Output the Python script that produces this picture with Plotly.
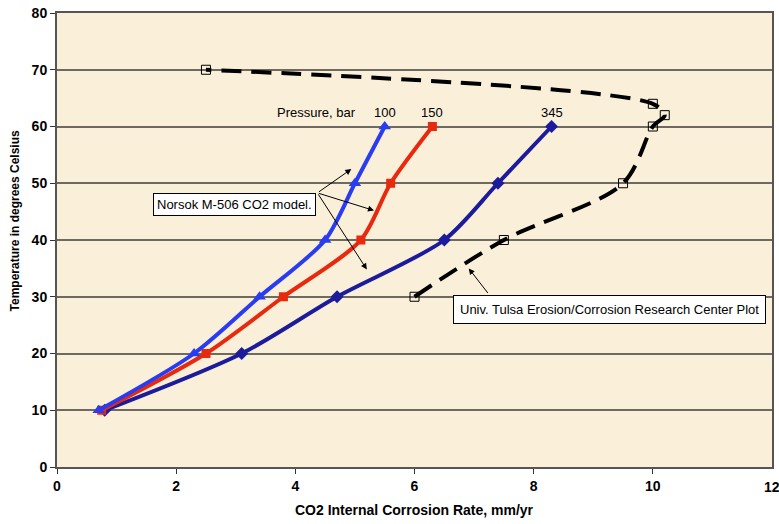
import plotly.graph_objects as go

# Norsok M-506 model curves, temperature (°C) vs corrosion rate (mm/yr)
temp_model = [10, 20, 30, 40, 50, 60]
rate_100bar = [0.7, 2.3, 3.4, 4.5, 5.0, 5.5]
rate_150bar = [0.75, 2.5, 3.8, 5.1, 5.6, 6.3]
rate_345bar = [0.8, 3.1, 4.7, 6.5, 7.4, 8.3]

# Univ. Tulsa E/CRC curve
tulsa_rate = [6.0, 7.5, 9.5, 10.0, 10.2, 10.0, 2.5]
tulsa_temp = [30, 40, 50, 60, 62, 64, 70]

pressure_labels = ["100", "150", "345"]
x_ticks = [0, 2, 4, 6, 8, 10, 12]
y_ticks = [0, 10, 20, 30, 40, 50, 60, 70, 80]

FAMILY = "Liberation Sans, Arial, sans-serif"
font = dict(family=FAMILY, color="black")

fig = go.Figure()

fig.add_trace(go.Scatter(
    x=tulsa_rate, y=tulsa_temp, mode="lines+markers",
    line=dict(color="black", width=4, dash="20px,10px", shape="spline", smoothing=0.9),
    marker=dict(symbol="square-open", size=9, color="black", line=dict(width=1)),
    showlegend=False))

for rates, color, sym, size in [
    (rate_345bar, "#1b1b9c", "diamond", 10),
    (rate_150bar, "#e8290e", "square", 9),
    (rate_100bar, "#2a3cf0", "triangle-up", 11),
]:
    fig.add_trace(go.Scatter(
        x=rates, y=temp_model, mode="lines+markers",
        line=dict(color=color, width=4, shape="spline", smoothing=0.8),
        marker=dict(symbol=sym, size=size, color=color),
        showlegend=False))

annotations = [
    dict(x=4.35, y=62.4, text="Pressure, bar", showarrow=False,
         xanchor="center", yanchor="middle", font=dict(size=13, **font)),
]
for lbl, rates in zip(pressure_labels, [rate_100bar, rate_150bar, rate_345bar]):
    annotations.append(dict(x=rates[-1], y=62.4, text=lbl, showarrow=False,
                            xanchor="center", yanchor="middle", font=dict(size=13, **font)))

# Callout boxes
annotations.append(dict(x=2.98, y=46.2, text="Norsok M-506 CO2 model.", showarrow=False,
                        bgcolor="white", bordercolor="black", borderwidth=1, borderpad=3,
                        font=dict(size=13, **font)))
annotations.append(dict(x=9.27, y=27.8, text="Univ. Tulsa Erosion/Corrosion Research Center Plot",
                        showarrow=False, bgcolor="white", bordercolor="black", borderwidth=1,
                        borderpad=6, font=dict(size=13, **font)))

# Arrows from the callouts to the curves
for hx, hy in [(4.94, 52.5), (5.32, 45.2), (5.2, 34.8)]:
    annotations.append(dict(x=hx, y=hy, ax=4.37, ay=48.3, axref="x", ayref="y",
                            text="", showarrow=True, arrowhead=2, arrowsize=1.2,
                            arrowwidth=1, arrowcolor="black"))
annotations.append(dict(x=6.91, y=35.0, ax=7.25, ay=30.4, axref="x", ayref="y",
                        text="", showarrow=True, arrowhead=2, arrowsize=1.2,
                        arrowwidth=1, arrowcolor="black"))

# last x tick label sits on the page edge, so it is placed explicitly
annotations.append(dict(x=x_ticks[-1], y=0, xref="x", yref="paper", yshift=-20,
                        text="<b>%d</b>" % x_ticks[-1], showarrow=False,
                        xanchor="center", yanchor="middle", font=dict(size=14, **font)))

# axis titles
annotations.append(dict(x=0, xref="paper", xshift=-42, y=0.543, yref="paper",
                        text="<b>Temperature in degrees Celsius</b>", textangle=-90,
                        showarrow=False, xanchor="center", yanchor="middle",
                        font=dict(size=12, **font)))
annotations.append(dict(x=0.5, xref="paper", y=0, yref="paper", yshift=-43,
                        text="<b>CO2 Internal Corrosion Rate, mm/yr</b>",
                        showarrow=False, xanchor="center", yanchor="middle",
                        font=dict(size=14, **font)))

fig.update_layout(
    width=779, height=524,
    margin=dict(l=57, r=5, t=12, b=57),
    paper_bgcolor="white",
    plot_bgcolor="#faefd8",
    annotations=annotations,
    font=font,
)

fig.update_xaxes(
    range=[0, 12], tickvals=x_ticks[:-1], ticktext=["<b>%d</b>" % v for v in x_ticks[:-1]],
    showgrid=False, zeroline=False,
    showline=True, linecolor="#555555", linewidth=2, mirror=True,
    ticks="outside", ticklen=5, tickcolor="#333333",
    tickfont=dict(size=14, **font),
)
fig.update_yaxes(
    range=[0, 80], tickvals=y_ticks, ticktext=["<b>%d</b>" % v for v in y_ticks],
    showgrid=True, gridcolor="#6e6a62", gridwidth=1.5, zeroline=False,
    showline=True, linecolor="#555555", linewidth=2, mirror=True,
    ticks="outside", ticklen=5, tickcolor="#333333",
    tickfont=dict(size=14, **font),
)

fig.write_html("out.html")
